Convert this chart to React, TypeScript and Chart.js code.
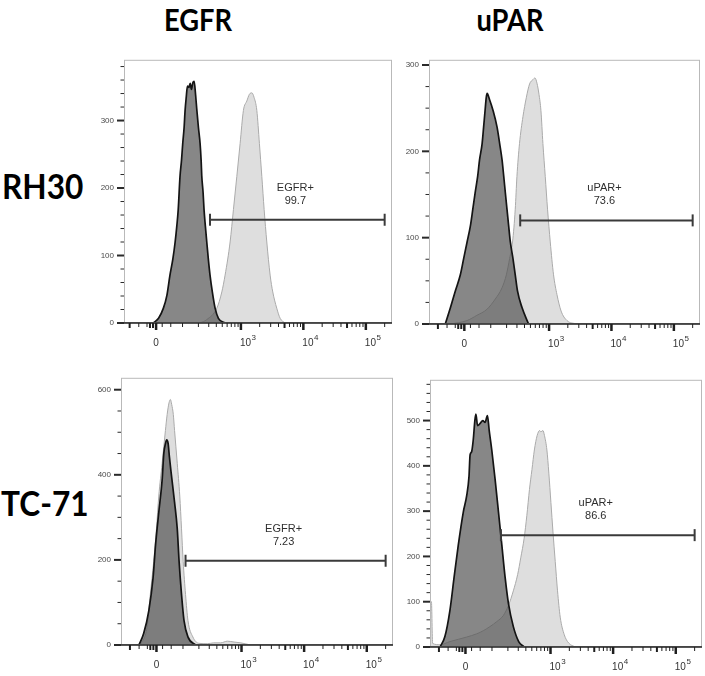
import React, { useEffect, useRef } from "react";
import { Chart, registerables, Scale } from "chart.js";

// ---------------- data ----------------
const columnTitles = ["EGFR", "uPAR"];
const rowTitles = ["RH30", "TC-71"];

// [fluorescence intensity, cell count]
const rh30EgfrControl = [[-9,0],[8,7],[24,22],[36,41],[47,71],[58,95],[67,120],[74,144],[80,168],[88,217],[95,241],[101,266],[108,290],[113,315],[119,334],[126,351],[134,349],[142,355],[150,346],[159,356],[168,358],[178,339],[188,315],[200,290],[214,266],[223,241],[229,217],[241,193],[250,168],[263,144],[278,120],[295,95],[315,71],[344,46],[382,22],[433,7],[556,0]];
const rh30EgfrStained = [[214,0],[278,5],[408,22],[492,46],[556,71],[670,120],[758,168],[859,217],[971,266],[1097,315],[1245,329],[1370,339],[1497,341],[1630,334],[1800,315],[1980,266],[2165,217],[2358,168],[2600,120],[2940,71],[3240,46],[3750,22],[4250,7],[5100,0]];
const rh30UparControl = [[-67,0],[-47,19],[-30,38],[-13,57],[-2,76],[9,95],[20,114],[28,133],[36,152],[45,171],[52,190],[62,209],[68,228],[74,247],[79,262],[83,267],[94,260],[112,247],[134,228],[150,209],[166,190],[178,171],[190,152],[203,133],[217,114],[232,95],[257,76],[281,57],[307,38],[364,19],[466,0]];
const rh30UparStained = [[-47,0],[9,4],[42,10],[82,17],[124,29],[166,42],[198,57],[226,76],[253,95],[281,133],[300,171],[331,209],[377,240],[428,262],[484,278],[549,283],[592,285],[638,279],[688,266],[740,247],[796,209],[868,171],[945,133],[1045,95],[1180,57],[1340,34],[1560,15],[1940,4],[2780,0]];
const tc71EgfrControl = [[-61,0],[-43,27],[-25,81],[-11,158],[-3,235],[7.5,312],[18.5,388],[24,450],[29.5,473],[34,482],[39,473],[43.5,442],[50,404],[63,335],[74,273],[82,196],[93,119],[105,58],[126,19],[176,0]];
const tc71EgfrStained = [[-55,0],[-31,42],[-20,119],[-9,196],[0,273],[7.5,350],[18.5,427],[29.5,504],[35.5,542],[42,569],[47,577],[52,565],[58,542],[63,504],[74,427],[85,350],[93,273],[101,196],[113,119],[126,58],[156,19],[200,4],[278,3],[354,5],[461,5],[592,9],[758,7],[971,5],[1406,0]];
const tc71UparControl = [[-95,0],[-73,23],[-53,81],[-38,153],[-23.5,225],[-7,298],[4,334],[11.5,377],[15,424],[20,431],[25.5,457],[31,500],[34.5,514],[40.5,489],[49,493],[60,500],[69,496],[79,511],[87,478],[99,435],[116,370],[135,298],[156,225],[179,153],[205,95],[248,45],[305,12],[375,0]];
const tc71UparStained = [[-150,100],[-141,100],[-134,8],[-95,5],[-53,12],[4,22],[37,29],[62,36],[90,45],[125,56],[167,70],[205,92],[248,124],[293,160],[330,197],[375,240],[415,290],[458,348],[503,392],[550,435],[610,467],[670,478],[700,475],[755,478],[800,467],[875,435],[940,384],[1015,319],[1095,254],[1190,189],[1295,124],[1430,66],[1660,27],[1945,9],[2490,0]];

const gateNames = ["EGFR+", "uPAR+", "EGFR+", "uPAR+"];
const gatePercents = ["99.7", "73.6", "7.23", "86.6"];
const gateStarts = [315, 340, 113, 150];
const gateEnds = [200000, 200000, 200000, 200000];
const gateHeights = [153, 120, 198, 247];

const xMins = [-130, -150, -150, -150];
const xMax = 262144;
const yMaxes = [390, 306, 628, 590];
const yLabelTicks = [[0, 100, 200, 300], [0, 100, 200, 300], [0, 200, 400, 600], [0, 100, 200, 300, 400, 500]];
const yMinorSteps = [20, 25, 50, 20];
const xLabelTicks = [0, 1000, 10000, 100000];
const xLabelBases = ["0", "10", "10", "10"];
const xLabelExponents = ["", "3", "4", "5"];
const xMidTicks = [-100, -20, -10, 5000, 50000];
const xMinorTicks = [-60, -30, 20, 50, 100, 200, 300, 400, 500, 600, 700, 800, 900, 2000, 3000, 4000, 6000, 7000, 8000, 9000, 20000, 30000, 40000, 60000, 70000, 80000, 90000, 200000];

const controlSeries = [rh30EgfrControl, rh30UparControl, tc71EgfrControl, tc71UparControl];
const stainedSeries = [rh30EgfrStained, rh30UparStained, tc71EgfrStained, tc71UparStained];

// ---------------- biexponential-like (arcsinh) scale ----------------
const COFACTOR = 88;
class AsinhScale extends Scale {
  static id = "asinh";
  static defaults = {};
  determineDataLimits() {
    const mm = this.getMinMax(true);
    this.min = mm.min;
    this.max = mm.max;
  }
  buildTicks() {
    return xLabelTicks.map((v) => ({ value: v }));
  }
  configure() {
    super.configure();
    this._a0 = Math.asinh(this.min / COFACTOR);
    this._a1 = Math.asinh(this.max / COFACTOR);
  }
  getPixelForValue(value) {
    return this.getPixelForDecimal((Math.asinh(value / COFACTOR) - this._a0) / (this._a1 - this._a0));
  }
  getValueForPixel(pixel) {
    return COFACTOR * Math.sinh(this._a0 + this.getDecimalForPixel(pixel) * (this._a1 - this._a0));
  }
  getLabelForValue(value) {
    return String(value);
  }
}

Chart.register(...registerables, AsinhScale);

const FONT = "'Liberation Sans', Arial, sans-serif";

function decorPlugin(i: number) {
  return {
    id: "flowDecor",
    afterDatasetsDraw(chart: any) {
      const { ctx, chartArea: a } = chart;
      const x = chart.scales.x;
      const y = chart.scales.y;
      const line = (x1: number, y1: number, x2: number, y2: number) => {
        ctx.beginPath();
        ctx.moveTo(x1, y1);
        ctx.lineTo(x2, y2);
        ctx.stroke();
      };
      ctx.save();
      // frame
      ctx.strokeStyle = "#b9b9b9";
      ctx.lineWidth = 1;
      ctx.strokeRect(a.left + 0.5, a.top + 0.5, a.right - a.left - 1, a.bottom - a.top - 1);
      // x axis line
      ctx.strokeStyle = "#1e1e1e";
      ctx.lineWidth = 1.5;
      line(a.left, a.bottom, a.right, a.bottom);
      // x ticks
      const inside = (px: number) => px >= a.left - 0.5 && px <= a.right + 0.5;
      ctx.lineWidth = 1;
      xMinorTicks.forEach((v) => {
        const px = x.getPixelForValue(v);
        if (inside(px)) line(px, a.bottom, px, a.bottom + 4);
      });
      ctx.lineWidth = 2;
      xMidTicks.forEach((v) => {
        const px = x.getPixelForValue(v);
        if (inside(px)) line(px, a.bottom, px, a.bottom + 5);
      });
      ctx.lineWidth = 2.5;
      xLabelTicks.forEach((v) => {
        const px = x.getPixelForValue(v);
        if (inside(px)) line(px, a.bottom, px, a.bottom + 7);
      });
      // x labels
      ctx.fillStyle = "#333";
      ctx.textBaseline = "middle";
      xLabelTicks.forEach((v, k) => {
        const px = x.getPixelForValue(v);
        const base = xLabelBases[k];
        const sup = xLabelExponents[k];
        ctx.font = "10px " + FONT;
        if (!sup) {
          ctx.textAlign = "center";
          ctx.fillText(base, px, a.bottom + 20);
        } else {
          ctx.textAlign = "left";
          ctx.fillText(base, px - 1, a.bottom + 20);
          const w = ctx.measureText(base).width;
          ctx.font = "8px " + FONT;
          ctx.fillText(sup, px - 1 + w + 0.5, a.bottom + 15);
        }
      });
      // y ticks
      ctx.strokeStyle = "#2a2a2a";
      const majors = yLabelTicks[i];
      for (let v = 0; v <= yMaxes[i]; v += yMinorSteps[i]) {
        const py = y.getPixelForValue(v);
        if (majors.includes(v)) {
          ctx.lineWidth = 2;
          line(a.left - 7, py, a.left, py);
        } else {
          ctx.lineWidth = 1;
          line(a.left - 3.5, py, a.left, py);
        }
      }
      // gate
      const gx1 = x.getPixelForValue(gateStarts[i]);
      const gx2 = x.getPixelForValue(gateEnds[i]);
      const gy = y.getPixelForValue(gateHeights[i]);
      ctx.strokeStyle = "#3a3a3a";
      ctx.lineWidth = 2;
      line(gx1, gy, gx2, gy);
      line(gx1, gy - 6, gx1, gy + 6);
      line(gx2, gy - 6, gx2, gy + 6);
      ctx.fillStyle = "#2e2e2e";
      ctx.font = "11px " + FONT;
      ctx.textAlign = "center";
      ctx.textBaseline = "middle";
      const cx = (gx1 + gx2) / 2 - 2;
      ctx.fillText(gateNames[i], cx, gy - 32);
      ctx.fillText(gatePercents[i], cx, gy - 19);
      ctx.restore();
    },
  };
}

const PAD_L = 44;
const PAD_T = 10;
const PAD_R = 3;
const PAD_B = 32;

function Panel({ i, left, top, width, height }: { i: number; left: number; top: number; width: number; height: number }) {
  const ref = useRef<HTMLCanvasElement>(null);
  const cw = width + PAD_L + PAD_R;
  const ch = height + PAD_T + PAD_B;
  useEffect(() => {
    const toPts = (arr: number[][]) => arr.map((p) => ({ x: p[0], y: p[1] }));
    const chart = new Chart(ref.current as HTMLCanvasElement, {
      type: "line",
      data: {
        datasets: [
          {
            data: toPts(controlSeries[i]),
            borderColor: "#141414",
            borderWidth: 1.7,
            backgroundColor: "rgba(84,84,84,0.7)",
            fill: "origin",
            pointRadius: 0,
            cubicInterpolationMode: "monotone",
          },
          {
            data: toPts(stainedSeries[i]),
            borderColor: "#ababab",
            borderWidth: 1,
            backgroundColor: "#dedede",
            fill: "origin",
            pointRadius: 0,
            cubicInterpolationMode: "monotone",
          },
        ],
      },
      options: {
        animation: false,
        responsive: false,
        events: [],
        layout: { padding: { left: 0, top: PAD_T, right: PAD_R, bottom: PAD_B } },
        plugins: { legend: { display: false }, tooltip: { enabled: false } },
        scales: {
          x: {
            type: "asinh",
            display: false,
            min: xMins[i],
            max: xMax,
          } as any,
          y: {
            type: "linear",
            min: 0,
            max: yMaxes[i],
            grid: { display: false, drawTicks: false },
            border: { display: false },
            ticks: {
              padding: 10,
              color: "#4a4a4a",
              font: { size: 8, family: FONT },
              callback: (v: any) => String(v),
            },
            afterBuildTicks: (s: any) => {
              s.ticks = yLabelTicks[i].map((v) => ({ value: v }));
            },
            afterFit: (s: any) => {
              s.width = PAD_L;
            },
          },
        },
      },
      plugins: [decorPlugin(i)],
    } as any);
    return () => chart.destroy();
  }, [i]);
  return (
    <canvas
      ref={ref}
      width={cw}
      height={ch}
      style={{ position: "absolute", left: left - PAD_L, top: top - PAD_T, width: cw, height: ch }}
    />
  );
}

const boxes = [
  { left: 124, top: 55, width: 268, height: 268 },
  { left: 429, top: 55, width: 271, height: 269 },
  { left: 121, top: 373, width: 272, height: 272 },
  { left: 430, top: 375, width: 272, height: 272 },
];

const titleStyle: React.CSSProperties = {
  position: "absolute",
  fontFamily: "Lato, 'Open Sans', sans-serif",
  fontWeight: 700,
  color: "#000",
  whiteSpace: "nowrap",
  lineHeight: 1,
};

export default function App() {
  return (
    <div style={{ position: "absolute", left: 0, top: 0, width: 705, height: 676, background: "#fff", overflow: "hidden" }}>
      <div style={{ ...titleStyle, left: 198, top: 19, fontSize: 31, transform: "translate(-50%,-50%) scaleX(0.88)" }}>{columnTitles[0]}</div>
      <div style={{ ...titleStyle, left: 510, top: 19, fontSize: 31, transform: "translate(-50%,-50%) scaleX(0.88)" }}>{columnTitles[1]}</div>
      <div style={{ ...titleStyle, left: 2, top: 186, fontSize: 34, transform: "translate(0,-50%) scaleX(0.93)", transformOrigin: "left center" }}>{rowTitles[0]}</div>
      <div style={{ ...titleStyle, left: 1, top: 503, fontSize: 34, transform: "translate(0,-50%) scaleX(0.93)", transformOrigin: "left center" }}>{rowTitles[1]}</div>
      {boxes.map((b, i) => (
        <Panel key={i} i={i} {...b} />
      ))}
    </div>
  );
}
